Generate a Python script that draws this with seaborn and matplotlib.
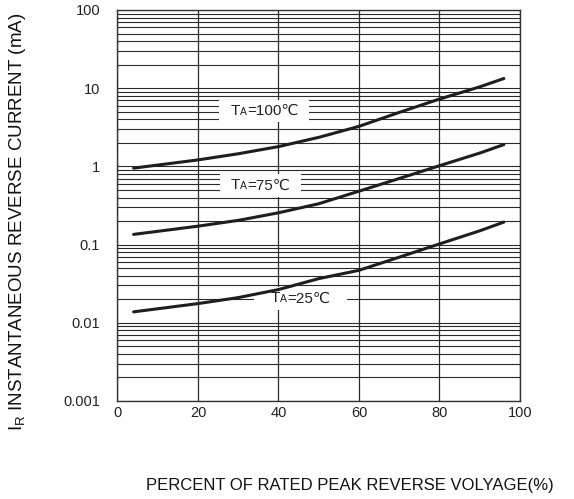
import matplotlib
matplotlib.use("Agg")
import matplotlib.pyplot as plt
from matplotlib.ticker import FixedLocator, LogLocator, NullFormatter
from matplotlib.offsetbox import TextArea, HPacker, AnnotationBbox, DrawingArea
import pandas as pd
import seaborn as sns

# readings (percent of rated voltage -> IR in mA)
pct = [4, 20, 30, 40, 50, 60, 70, 80, 90, 96]
ir_100 = [0.95, 1.21, 1.45, 1.79, 2.35, 3.25, 4.9, 7.26, 10.4, 13.3]
ir_75 = [0.135, 0.172, 0.204, 0.255, 0.333, 0.482, 0.70, 1.02, 1.48, 1.90]
ir_25 = [0.0138, 0.0176, 0.021, 0.0266, 0.0367, 0.0469, 0.069, 0.102, 0.150, 0.194]

temps = ["100", "75", "25"]
y_ticks = [0.001, 0.01, 0.1, 1, 10, 100]
y_labels = ["0.001", "0.01", "0.1", "1", "10", "100"]
x_ticks = [0, 20, 40, 60, 80, 100]

df = pd.concat([
    pd.DataFrame({"pct": pct, "ir": vals, "temp": t})
    for t, vals in zip(temps, [ir_100, ir_75, ir_25])
])

sns.set_style("white")
plt.rcParams["font.family"] = ["Liberation Sans", "DejaVu Sans"]
plt.rcParams["mathtext.fontset"] = "custom"
plt.rcParams["mathtext.rm"] = "Liberation Sans"

fig = plt.figure(figsize=(5.74, 4.99), dpi=100)
ax = fig.add_axes([0.2047, 0.1964, 0.7012, 0.7836])

sns.lineplot(data=df, x="pct", y="ir", hue="temp", palette=["#1e1e1e"] * 3,
             legend=False, linewidth=2.2, ax=ax, zorder=3)

ax.set_yscale("log")
ax.set_xlim(0, 100)
ax.set_ylim(0.001, 100)
ax.yaxis.set_major_locator(FixedLocator(y_ticks))
ax.set_yticklabels(y_labels)
ax.yaxis.set_minor_locator(LogLocator(base=10, subs=range(2, 10)))
ax.yaxis.set_minor_formatter(NullFormatter())
ax.set_xticks(x_ticks)
ax.set_xticklabels([str(v) for v in x_ticks])

ax.tick_params(axis="both", which="both", length=0, labelsize=10.5, colors="#222222")
ax.tick_params(axis="y", pad=12.5)
ax.tick_params(axis="x", pad=3.5)

ax.grid(axis="y", which="both", color="#2a2a2a", linewidth=0.8)
ax.grid(axis="x", which="major", color="#2a2a2a", linewidth=0.9)
for s in ax.spines.values():
    s.set_color("#333333")
    s.set_linewidth(1.0)


def ta_label(x, y, temp, z, side=5):
    tp = dict(fontsize=11, color="#222222")
    parts = [
        DrawingArea(side, 1),
        TextArea("T", textprops=tp),
        TextArea("A", textprops=dict(fontsize=7.5, color="#222222")),
        TextArea("=" + temp + "℃", textprops=tp),
        DrawingArea(side, 1),
    ]
    pack = HPacker(children=parts, align="baseline", pad=0, sep=0)
    ab = AnnotationBbox(pack, (x, y), xycoords="data", frameon=True, pad=0.25,
                        bboxprops=dict(facecolor="white", edgecolor="none",
                                       boxstyle="square"))
    ab.set_zorder(z)
    ax.add_artist(ab)


ta_label(36.5, 5.15, "100", 4)
ta_label(35.5, 0.57, "75", 4)
ta_label(45.5, 0.0205, "25", 2.5, side=9)

ax.set_xlabel("PERCENT OF RATED PEAK REVERSE VOLYAGE(%)", fontsize=12, color="#111111")
ax.set_ylabel("I$_{\\mathregular{R}}$ INSTANTANEOUS REVERSE CURRENT (mA)", fontsize=13.5,
              color="#111111")
ax.xaxis.set_label_coords(0.578, -0.197)
ax.yaxis.set_label_coords(-0.222, 0.458)

fig.savefig("out.png", dpi=100)
